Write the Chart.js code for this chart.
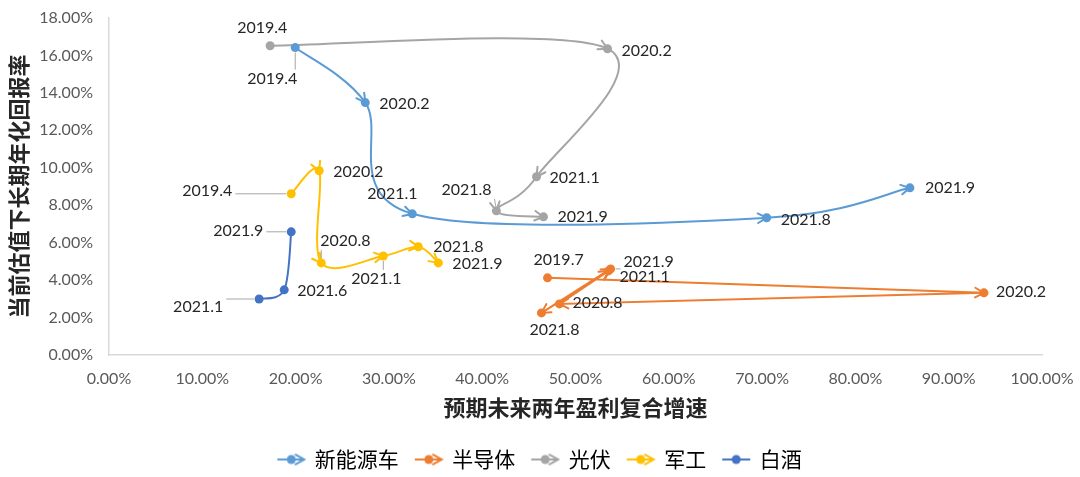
<!DOCTYPE html>
<html>
<head>
<meta charset="utf-8">
<script src="https://cdn.jsdelivr.net/npm/chart.js@4"></script>
<style>
  body { margin: 0; background: #fff; }
  canvas { display: block; }
</style>
</head>
<body>
<canvas id="chart" width="1080" height="477"></canvas>
<script>
// 预期未来两年盈利复合增速 (x, %) / 当前估值下长期年化回报率 (y, %)
const seriesNames = ['新能源车', '半导体', '光伏', '军工', '白酒'];

const nevDates = ['2019.4', '2020.2', '2021.1', '2021.8', '2021.9'];
const nevGrowth = [19.96, 27.47, 32.51, 70.49, 85.84];
const nevReturn = [16.42, 13.48, 7.54, 7.33, 8.93];

const semiDates = ['2019.7', '2020.2', '2020.8', '2021.1', '2021.8', '2021.9'];
const semiGrowth = [47.0, 93.78, 48.28, 53.54, 46.35, 53.76];
const semiReturn = [4.12, 3.32, 2.73, 4.49, 2.25, 4.60];

const pvDates = ['2019.4', '2020.2', '2021.1', '2021.8', '2021.9'];
const pvGrowth = [17.27, 53.43, 45.82, 41.52, 46.57];
const pvReturn = [16.52, 16.36, 9.52, 7.70, 7.38];

const milDates = ['2019.4', '2020.2', '2020.8', '2021.1', '2021.8', '2021.9'];
const milGrowth = [19.53, 22.53, 22.75, 29.40, 33.15, 35.30];
const milReturn = [8.61, 9.84, 4.92, 5.29, 5.78, 4.92];

const liqDates = ['2021.1', '2021.6', '2021.9'];
const liqGrowth = [16.09, 18.78, 19.53];
const liqReturn = [2.99, 3.48, 6.58];

// label placement: [dx, dy, leader line]
const nevLabelPos = [[-48, 31, 1], [14, 1, 0], [-45, -20, 0], [14, 2, 0], [15, 0, 0]];
const semiLabelPos = [[-14, -18, 0], [12, -1, 0], [13, -1, 0], [11, 6, 0], [-12, 17, 0], [13, -7, 1]];
const pvLabelPos = [[-33, -18, 0], [14, 2, 0], [13, 1, 0], [-55, -21, 1], [14, 0, 0]];
const milLabelPos = [[-109, -3, 1], [14, 1, 0], [-1, -22, 1], [-32, 23, 1], [15, 0, 0], [14, 1, 0]];
const liqLabelPos = [[-86, 8, 1], [13, 1, 0], [-78, -1, 1]];

const colors = ['#5B9BD5', '#ED7D31', '#A5A5A5', '#FFC000', '#4472C4'];

function pts(xs, ys) {
  return xs.map((x, i) => ({ x: x, y: ys[i] }));
}

function drawArrow(g, x, y, ang, color) {
  const len = 10, spread = 0.5;
  g.save();
  g.strokeStyle = color;
  g.lineWidth = 2;
  g.lineCap = 'round';
  g.beginPath();
  g.moveTo(x - len * Math.cos(ang - spread), y - len * Math.sin(ang - spread));
  g.lineTo(x, y);
  g.lineTo(x - len * Math.cos(ang + spread), y - len * Math.sin(ang + spread));
  g.stroke();
  g.restore();
}

function makeIcon(color, arrow) {
  const c = document.createElement('canvas');
  c.width = 30; c.height = 14;
  const g = c.getContext('2d');
  g.strokeStyle = color; g.fillStyle = color; g.lineWidth = 2;
  g.beginPath(); g.moveTo(1, 7); g.lineTo(arrow ? 27 : 29, 7); g.stroke();
  g.beginPath(); g.arc(15, 7, 4.5, 0, Math.PI * 2); g.fill();
  if (arrow) drawArrow(g, 28, 7, 0, color);
  return c;
}

const icons = colors.map((c, i) => makeIcon(c, i < 4));

function makeSet(i, xs, ys, dates, pos, smooth, arrows) {
  return {
    label: seriesNames[i],
    data: pts(xs, ys),
    dates: dates,
    labelPos: pos,
    arrows: arrows,
    smooth: smooth,
    showLine: true,
    tension: smooth ? 0.3 : 0,
    borderColor: colors[i],
    backgroundColor: colors[i],
    borderWidth: 2,
    pointRadius: 4.5,
    pointBorderWidth: 0,
    pointHoverRadius: 4.5
  };
}

// Excel-like smoothing: uniform Catmull-Rom control points
const excelSmooth = {
  id: 'excelSmooth',
  beforeDatasetsDraw(chart) {
    chart.data.datasets.forEach((ds, di) => {
      if (!ds.smooth) return;
      const meta = chart.getDatasetMeta(di);
      meta.dataset.updateControlPoints(chart.chartArea, meta.iScale.axis);
      const els = meta.data;
      const n = els.length;
      els.forEach((p, i) => {
        const prev = els[Math.max(i - 1, 0)];
        const next = els[Math.min(i + 1, n - 1)];
        const dx = (next.x - prev.x) / 6, dy = (next.y - prev.y) / 6;
        p.cp1x = p.x - dx; p.cp1y = p.y - dy;
        p.cp2x = p.x + dx; p.cp2y = p.y + dy;
      });
    });
  }
};

const arrowsAndLabels = {
  id: 'arrowsAndLabels',
  afterDatasetsDraw(chart) {
    const g = chart.ctx;
    chart.data.datasets.forEach((ds, di) => {
      const els = chart.getDatasetMeta(di).data;
      if (ds.arrows) {
        for (let i = 1; i < els.length; i++) {
          const p = els[i], q = els[i - 1];
          let fx = p.cp1x, fy = p.cp1y;
          if (!ds.smooth || fx === undefined || Math.hypot(p.x - fx, p.y - fy) < 1) { fx = q.x; fy = q.y; }
          drawArrow(g, p.x, p.y, Math.atan2(p.y - fy, p.x - fx), ds.borderColor);
        }
      }
    });
    g.save();
    g.font = '16px Lato';
    g.textAlign = 'left';
    g.textBaseline = 'middle';
    chart.data.datasets.forEach((ds, di) => {
      const els = chart.getDatasetMeta(di).data;
      els.forEach((p, i) => {
        const [dx, dy, lead] = ds.labelPos[i];
        const tx = p.x + dx, ty = p.y + dy;
        const w = g.measureText(ds.dates[i]).width;
        if (lead) {
          const sx = Math.min(Math.max(p.x, tx - 3), tx + w + 3);
          const sy = Math.min(Math.max(p.y, ty - 9), ty + 9);
          const d = Math.hypot(p.x - sx, p.y - sy);
          if (d > 6) {
            const ex = p.x - (p.x - sx) * 5 / d, ey = p.y - (p.y - sy) * 5 / d;
            g.strokeStyle = '#A6A6A6';
            g.lineWidth = 1;
            g.beginPath(); g.moveTo(sx, sy); g.lineTo(ex, ey); g.stroke();
          }
        }
        g.fillStyle = '#262626';
        g.fillText(ds.dates[i], tx, ty);
      });
    });
    g.restore();
  }
};

new Chart(document.getElementById('chart'), {
  type: 'scatter',
  data: {
    datasets: [
      makeSet(0, nevGrowth, nevReturn, nevDates, nevLabelPos, true, true),
      makeSet(1, semiGrowth, semiReturn, semiDates, semiLabelPos, false, true),
      makeSet(2, pvGrowth, pvReturn, pvDates, pvLabelPos, true, true),
      makeSet(3, milGrowth, milReturn, milDates, milLabelPos, true, true),
      makeSet(4, liqGrowth, liqReturn, liqDates, liqLabelPos, true, false)
    ]
  },
  options: {
    responsive: false,
    animation: false,
    layout: { padding: { left: 0, right: 0, top: 0, bottom: -3 } },
    plugins: {
      tooltip: { enabled: false },
      legend: {
        position: 'bottom',
        labels: {
          usePointStyle: true,
          pointStyleWidth: 26,
          padding: 17,
          color: '#262626',
          font: { size: 21, family: '"Noto Sans CJK SC"' },
          generateLabels: chart => chart.data.datasets.map((ds, i) => ({
            text: ds.label,
            pointStyle: icons[i],
            fillStyle: ds.borderColor,
            strokeStyle: ds.borderColor,
            lineWidth: 0,
            hidden: false,
            datasetIndex: i
          }))
        }
      }
    },
    scales: {
      x: {
        type: 'linear',
        min: 0,
        max: 100,
        afterFit: s => {
          s.height = 77;
          s.paddingLeft = 0;
          s.paddingRight = 38;
        },
        grid: { display: false, drawTicks: false },
        border: { display: true, color: '#D9D9D9', width: 1.5 },
        ticks: {
          stepSize: 10,
          autoSkip: false,
          maxRotation: 0,
          padding: 14,
          color: '#595959',
          font: { size: 16, family: 'Lato' },
          callback: v => v.toFixed(2) + '%'
        },
        title: {
          display: true,
          text: '预期未来两年盈利复合增速',
          color: '#262626',
          padding: { top: 0, bottom: 11 },
          font: { size: 22, weight: 'bold', family: '"Noto Sans CJK SC"' }
        }
      },
      y: {
        type: 'linear',
        min: 0,
        max: 18,
        afterFit: s => {
          s.width = 109;
          s.paddingTop = 18;
          s.paddingBottom = 0;
        },
        grid: { display: false, drawTicks: false },
        border: { display: true, color: '#D9D9D9', width: 1.5 },
        ticks: {
          stepSize: 2,
          padding: 16,
          color: '#595959',
          font: { size: 16, family: 'Lato' },
          callback: v => v.toFixed(2) + '%'
        },
        title: {
          display: true,
          text: '当前估值下长期年化回报率',
          color: '#262626',
          padding: { top: 5, bottom: 0 },
          font: { size: 22, weight: 'bold', family: '"Noto Sans CJK SC"' }
        }
      }
    }
  },
  plugins: [excelSmooth, arrowsAndLabels]
});
</script>
</body>
</html>
